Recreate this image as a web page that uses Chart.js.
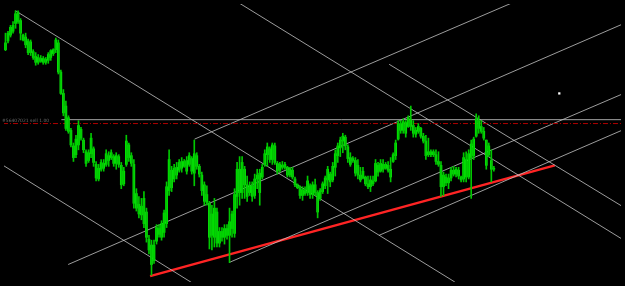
<!DOCTYPE html>
<html>
<head>
<meta charset="utf-8">
<script src="https://cdn.jsdelivr.net/npm/chart.js@4/dist/chart.umd.min.js"></script>
<style>
  html, body { margin: 0; padding: 0; background: #000; }
  #chart { display: block; background: #000; }
</style>
</head>
<body>
<canvas id="chart" width="625" height="286"></canvas>
<script>
// candle data (price in points, one entry per bar)
const highs = [256,258,264,268,279,279,271,255,256,250,249,239,236,234,233,232,231,236,239,240,
  251,249,218,198,186,171,158,143,151,166,159,148,136,136,153,139,124,121,126,126,
  136,134,136,131,133,131,123,118,151,143,133,126,96,88,86,93,76,48,43,43,
  59,59,63,74,103,136,119,121,123,126,128,126,129,133,129,146,133,121,113,103,
  99,83,79,86,76,56,56,59,59,76,73,96,123,129,129,119,109,103,103,111,
  116,116,121,136,143,139,143,143,124,123,124,123,119,118,118,108,101,99,98,98,
  109,101,103,106,94,96,103,109,119,113,123,136,143,149,153,151,141,133,129,128,
  126,118,118,109,109,109,109,126,123,126,126,123,124,128,133,146,166,166,168,166,
  171,181,166,159,163,159,153,151,148,136,136,136,134,124,113,111,111,118,119,118,
  118,109,133,134,136,146,149,173,171,166,159,146,143,136,119];
const lows = [238,246,252,256,261,266,249,248,241,234,233,229,223,224,226,224,224,225,228,233,
  236,214,193,171,156,153,139,124,128,136,146,133,119,123,128,119,104,104,114,114,
  119,119,126,119,116,118,96,99,119,124,119,76,73,66,64,56,41,29,7,19,
  39,46,43,46,56,89,93,103,106,113,113,118,111,119,111,99,116,108,89,79,
  79,34,33,36,36,36,42,39,44,20,46,46,76,79,86,86,83,89,83,86,
  96,79,106,119,119,123,121,121,111,113,116,116,108,108,106,98,96,86,84,89,
  89,86,86,89,66,84,91,96,91,98,103,109,123,129,133,136,123,119,123,109,
  106,103,106,99,96,93,99,103,109,113,113,116,113,103,123,126,146,153,153,149,
  159,156,149,149,153,148,143,126,129,129,129,121,119,88,89,99,96,104,109,108,
  106,103,103,103,106,86,126,149,153,153,146,116,129,103,114];
const opens = [239,248,254,258,266,277,269,254,252,248,247,237,232,226,230,226,229,228,231,235,
  239,246,216,194,181,169,156,140,131,141,157,146,134,125,132,137,121,106,116,122,
  121,130,128,129,122,129,120,101,121,141,130,121,91,80,69,86,72,44,38,22,
  42,55,46,51,60,94,115,106,118,115,124,119,125,121,127,112,130,119,110,100,
  90,81,70,46,72,40,52,46,55,48,55,50,88,116,92,116,100,92,99,89,
  106,112,108,121,131,137,126,140,122,115,120,118,118,110,115,106,100,97,89,94,
  92,99,90,100,92,86,93,99,105,111,105,118,130,138,145,149,139,128,127,125,
  120,110,107,108,101,98,104,104,120,114,121,117,120,116,124,130,147,163,156,164,
  160,167,161,152,155,158,150,145,134,131,134,131,124,120,98,108,102,107,115,111,
  115,108,106,126,108,128,130,150,166,160,155,146,131,125,116];
const closes = [246,256,262,264,276,268,256,249,244,236,236,231,226,231,227,230,226,234,238,239,
  249,216,194,174,158,155,141,128,147,161,148,136,122,133,148,123,107,117,123,117,
  132,125,133,122,130,121,100,114,145,128,122,81,76,70,78,60,46,33,18,38,
  56,49,60,71,98,126,97,117,110,123,117,124,114,130,114,132,119,111,94,83,
  82,46,48,76,40,52,46,55,48,62,70,90,116,92,123,100,88,99,88,106,
  110,92,118,132,139,126,141,123,114,121,118,121,110,116,108,100,97,89,95,91,
  104,90,100,92,72,94,101,107,116,103,119,132,140,146,150,140,127,121,125,112,
  110,105,114,101,98,105,101,122,113,122,116,121,115,108,131,143,163,156,165,153,
  169,160,153,156,160,150,145,130,131,134,131,124,121,98,110,102,107,115,111,116,
  109,105,128,108,132,142,147,168,158,155,148,120,140,116,117];

// drawn objects: [bar1, price1, bar2, price2]
const channelLines = [
  [4, 279, 178.5, 0],
  [77.8, 311, 258.2, 23],
  [152.4, 224, 258.2, 57],
  [-8.4, 132, 79.8, -10],
  [75.1, 147, 209.2, 296],
  [24.9, 18, 258.2, 280],
  [88.8, 20, 258.2, 208],
  [148.4, 48, 258.2, 171]
];
const supportLine = [57.45, 6, 218.2, 120];
const orderLevel = 163;
const orderLine = [22.2, 167, 258.2, 167];
const orderLabel = '#56407021 sell 1.00';
const marker = [220, 194];

const xMin = -0.588;
const xMax = 244.51;

const seg = (l) => [{ x: l[0], y: l[1] }, { x: l[2], y: l[3] }];

const wickData = highs.map((h, i) => ({ x: i, y: [lows[i], h] }));
const bodyData = opens.map((o, i) => ({ x: i, y: [o, closes[i]] }));
const bodyColors = opens.map((o, i) => (closes[i] >= o ? '#00ff00' : '#10f010'));

const lineSet = (l, color, width) => ({
  type: 'line',
  data: seg(l),
  borderColor: color,
  borderWidth: width,
  pointRadius: 0,
  fill: false,
  tension: 0,
});

const datasets = [
  {
    type: 'bar',
    label: 'wicks',
    data: wickData,
    backgroundColor: '#00c800',
    barThickness: 1,
    grouped: false,
    borderWidth: 0,
  },
  {
    type: 'bar',
    label: 'bodies',
    data: bodyData,
    backgroundColor: bodyColors,
    barThickness: 2,
    minBarLength: 1,
    grouped: false,
    borderWidth: 0,
  },
  {
    ...lineSet([-1, orderLevel, 258.2, orderLevel], '#b00000', 1),
    borderDash: [5, 2, 1, 2],
  },
  lineSet(orderLine, 'rgba(190,190,190,0.85)', 1),
  ...channelLines.map((l) => lineSet(l, 'rgba(195,195,195,0.8)', 1)),
  lineSet(supportLine, '#ff2424', 2.5),
  {
    type: 'line',
    data: [{ x: marker[0], y: marker[1] }],
    showLine: false,
    pointStyle: 'rect',
    pointRadius: 1.6,
    backgroundColor: '#ffffff',
    borderWidth: 0,
  },
];

const labelPlugin = {
  id: 'orderLabel',
  afterDatasetsDraw(chart) {
    const { ctx, scales } = chart;
    ctx.save();
    ctx.fillStyle = '#6a6a6a';
    ctx.font = '4.5px "DejaVu Sans"';
    ctx.textBaseline = 'bottom';
    ctx.fillText(orderLabel, 2, scales.y.getPixelForValue(orderLevel) - 0.5);
    ctx.restore();
  },
};

new Chart(document.getElementById('chart'), {
  type: 'bar',
  data: { datasets },
  options: {
    responsive: false,
    animation: false,
    layout: { padding: 0 },
    plugins: {
      legend: { display: false },
      tooltip: { enabled: false },
    },
    scales: {
      x: { type: 'linear', min: xMin, max: xMax, offset: false, display: false },
      y: { type: 'linear', min: 0, max: 286, display: false },
    },
  },
  plugins: [labelPlugin],
});
</script>
</body>
</html>
